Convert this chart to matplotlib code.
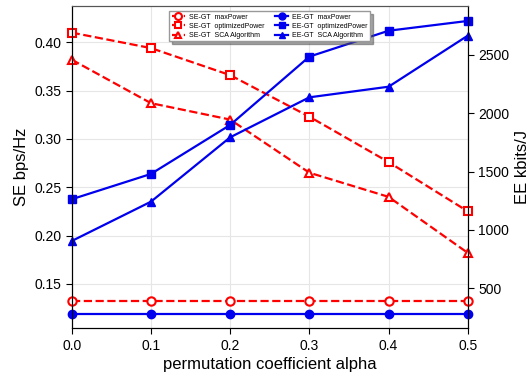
import matplotlib
matplotlib.use("Agg")
import matplotlib.pyplot as plt

plt.rcParams['font.family'] = ['Liberation Sans', 'DejaVu Sans']

alpha = [0.0, 0.1, 0.2, 0.3, 0.4, 0.5]

se_max = [0.132, 0.132, 0.132, 0.132, 0.132, 0.132]
se_opt = [0.410, 0.394, 0.366, 0.323, 0.276, 0.225]
se_sca = [0.382, 0.337, 0.320, 0.265, 0.240, 0.182]

ee_max = [279, 279, 279, 279, 279, 279]
ee_opt = [1263, 1480, 1900, 2486, 2708, 2792]
ee_sca = [905, 1242, 1794, 2137, 2228, 2666]

xticks = [0.0, 0.1, 0.2, 0.3, 0.4, 0.5]
se_ticks = [0.15, 0.20, 0.25, 0.30, 0.35, 0.40]
ee_ticks = [500, 1000, 1500, 2000, 2500]

labels_se = ['SE-GT  maxPower', 'SE-GT  optimizedPower', 'SE-GT  SCA Algorithm']
labels_ee = ['EE-GT  maxPower', 'EE-GT  optimizedPower', 'EE-GT  SCA Algorithm']

fig = plt.figure(figsize=(5.31, 3.77), dpi=100)
ax = fig.add_axes([0.135, 0.129, 0.746, 0.856])
ax2 = ax.twinx()

red = '#ff0000'
blue = '#0000ee'
lw = 1.6
ms = 6

h1, = ax.plot(alpha, se_max, '--', color=red, lw=lw, marker='o', ms=ms, mfc='white', mec=red, mew=1.5, label=labels_se[0])
h2, = ax.plot(alpha, se_opt, '--', color=red, lw=lw, marker='s', ms=ms, mfc='white', mec=red, mew=1.5, label=labels_se[1])
h3, = ax.plot(alpha, se_sca, '--', color=red, lw=lw, marker='^', ms=ms, mfc='white', mec=red, mew=1.5, label=labels_se[2])

h4, = ax2.plot(alpha, ee_max, '-', color=blue, lw=lw, marker='o', ms=ms, mfc=blue, mec=blue, label=labels_ee[0])
h5, = ax2.plot(alpha, ee_opt, '-', color=blue, lw=lw, marker='s', ms=ms, mfc=blue, mec=blue, label=labels_ee[1])
h6, = ax2.plot(alpha, ee_sca, '-', color=blue, lw=lw, marker='^', ms=ms, mfc=blue, mec=blue, label=labels_ee[2])

for h in (h1, h2, h3, h4, h5, h6):
    h.set_clip_on(False)

ax.set_xlim(0, 0.5)
ax.set_ylim(0.1039, 0.4379)
ax2.set_ylim(156, 2923)
ax.set_xticks(xticks)
ax.set_xticklabels([f'{v:.1f}' for v in xticks])
ax.set_yticks(se_ticks)
ax.set_yticklabels([f'{v:.2f}' for v in se_ticks])
ax2.set_yticks(ee_ticks)

ax.grid(True, color='#e6e6e6', lw=0.8)
ax.set_axisbelow(True)

for a in (ax, ax2):
    a.tick_params(direction='out', labelsize=10, length=4, width=0.8)
    a.spines['top'].set_color('#555555')
ax.tick_params(top=False)

ax.set_xlabel('permutation coefficient alpha', fontsize=12, labelpad=3)
ax.set_ylabel('SE bps/Hz', fontsize=12, labelpad=4)
ax2.set_ylabel('EE kbits/J', fontsize=12, labelpad=4)

leg = ax2.legend([h1, h2, h3, h4, h5, h6], labels_se + labels_ee, ncol=2,
                 loc='upper center', bbox_to_anchor=(0.5, 0.993), fontsize=5,
                 frameon=True, fancybox=False, shadow=True, handlelength=1.9,
                 handletextpad=0.6, columnspacing=1.5, borderpad=0.35,
                 labelspacing=0.3, edgecolor='#999999', framealpha=1)
for lh in leg.legend_handles:
    lh.set_markersize(5)

fig.savefig('out.png', dpi=100)
